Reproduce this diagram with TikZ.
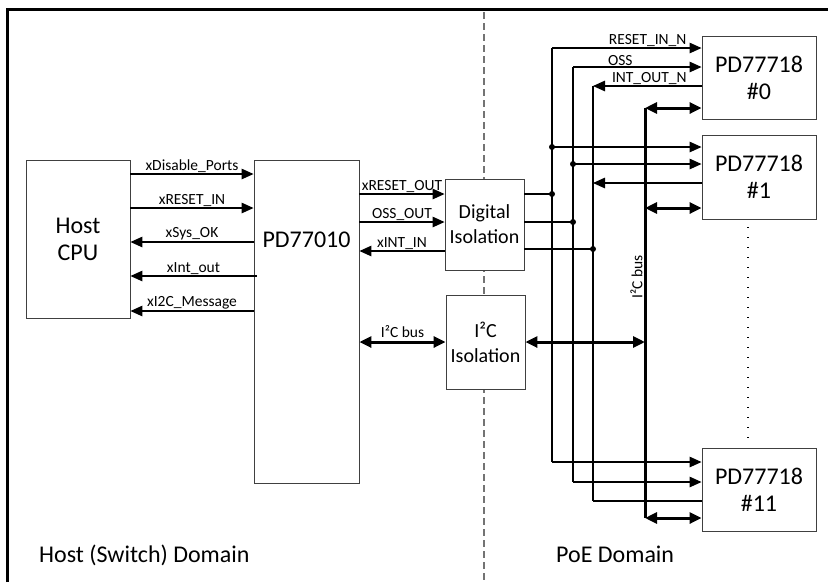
\documentclass[tikz,border=0pt]{standalone}
\usepackage{fontspec}
\setmainfont{Carlito}
\usetikzlibrary{arrows.meta,positioning,calc}

\begin{document}
\begin{tikzpicture}[
    x=1pt, y=-1pt,
    blk/.style={draw=black!75, line width=0.9pt, fill=white, inner sep=0pt, align=center, font=\fontsize{24}{27}\selectfont},
    big/.style={font=\fontsize{24}{27}\selectfont, inner sep=0pt},
    mid/.style={font=\fontsize{20}{25}\selectfont},
    lab/.style={font=\fontsize{15.5}{17}\selectfont, inner sep=1pt},
    sig/.style={line width=1.3pt},
    arr/.style={sig, -{Triangle[length=12pt,width=10.5pt]}},
    bus/.style={line width=3pt},
    barr/.style={bus, {Triangle[length=12pt,width=11pt]}-{Triangle[length=12pt,width=11pt]}},
    jn/.style={circle, fill, inner sep=0pt, minimum size=6pt}
]
\useasboundingbox (0,0) rectangle (828,582);
\draw[line width=3pt] (7.5,582) -- (7.5,9.5) -- (828,9.5);
\draw[black!55, line width=1.2pt, dash pattern=on 7pt off 4pt] (484,12) -- (484,582);

\node[blk, minimum width=104, minimum height=158] (host) at (78,239) {Host\\CPU};
\node[blk, minimum width=105, minimum height=323] (pd010) at (306.5,321.5) {};
\node[big] (pd010txt) at ([yshift=-80pt]pd010.north) {PD77010};
\node[blk, mid, minimum width=79, minimum height=91] (dig) at (484.5,224.5) {Digital\\Isolation};
\node[blk, mid, minimum width=79, minimum height=94] (i2ciso) at (485.5,342) {I²C\\Isolation};
\node[blk, minimum width=114, minimum height=83] (pd0) at (759,77.5) {PD77718\\\#0};
\node[blk, minimum width=114, minimum height=84] (pd1) at (759,177) {PD77718\\\#1};
\node[blk, minimum width=114, minimum height=83] (pd11) at (759,489.5) {PD77718\\\#11};

\draw[arr] (host.east |- 0,174) -- node[lab, above] {xDisable\_Ports} (pd010.west |- 0,174);
\draw[arr] (host.east |- 0,208) -- node[lab, above] {xRESET\_IN} (pd010.west |- 0,208);
\draw[arr] (pd010.west |- 0,242) -- node[lab, above] {xSys\_OK} (host.east |- 0,242);
\draw[arr] ([xshift=3pt]pd010.west |- 0,276) -- node[lab, above] {xInt\_out} (host.east |- 0,276);
\draw[arr] (pd010.west |- 0,311) -- node[lab, above] {xI2C\_Message} (host.east |- 0,311);

\draw[arr] (pd010.east |- 0,194) -- node[lab, above] {xRESET\_OUT} (dig.west |- 0,194);
\draw[arr] (pd010.east |- 0,222) -- node[lab, above] {OSS\_OUT} (dig.west |- 0,222);
\draw[arr] (dig.west |- 0,251) -- node[lab, above] {xINT\_IN} (pd010.east |- 0,251);
\draw[barr] (pd010.east |- i2ciso) -- node[lab, above=2pt] {I²C bus} (i2ciso.west);

\coordinate (rstT) at (552,48);
\coordinate (rstB) at (552,462);
\coordinate (ossT) at (573,67);
\coordinate (ossB) at (573,482);
\coordinate (intT) at (593,86);
\coordinate (intB) at (593,501);
\coordinate (busT) at (645,108);
\coordinate (busB) at (645,518);

\draw[sig] (rstT) -- (rstB);
\draw[sig] (ossT) -- (ossB);
\draw[sig] (intT) -- (intB);
\draw[bus] (busT) -- node[lab, rotate=90, above=3pt, pos=0.42] {I²C bus} (busB);

\draw[arr] (rstT) -- node[lab, anchor=south west, pos=0.37] {RESET\_IN\_N} (pd0.west |- rstT);
\draw[arr] (ossT) -- node[lab, anchor=south west, pos=0.26] {OSS} (pd0.west |- ossT);
\draw[arr] (pd0.west |- intT) -- node[lab, anchor=south west, pos=0.84] {INT\_OUT\_N} (intT);
\draw[barr] (busT) -- (pd0.west |- busT);

\draw[arr] (rstT |- 0,147) -- (pd1.west |- 0,147);
\draw[arr] (ossT |- 0,164) -- (pd1.west |- 0,164);
\draw[arr] (pd1.west |- 0,183) -- (intT |- 0,183);
\draw[barr] (busT |- 0,208) -- (pd1.west |- 0,208);

\draw[arr] (rstB) -- (pd11.west |- rstB);
\draw[arr] (ossB) -- (pd11.west |- ossB);
\draw[sig] (pd11.west |- intB) -- (intB);
\draw[barr] (busB) -- (pd11.west |- busB);

\draw[sig] (dig.east |- 0,194) -- (rstT |- 0,194);
\draw[sig] (dig.east |- 0,222) -- (ossT |- 0,222);
\draw[sig] (dig.east |- 0,249) -- (intT |- 0,249);
\draw[barr] (i2ciso.east) -- (busT |- i2ciso.east);

\node[jn] (j1) at (rstT |- 0,147) {};
\node[jn] (j2) at (rstT |- 0,194) {};
\node[jn] (j3) at (ossT |- 0,164) {};
\node[jn] (j4) at (ossT |- 0,222) {};
\node[jn] (j5) at (intT |- 0,249) {};

\draw[line width=1.2pt, dash pattern=on 1.2pt off 8.8pt] (748,227) -- (748,438);

\node[big, anchor=base west] (hostdom) at (39,562) {Host (Switch) Domain};
\node[big, anchor=base west] (poedom) at (556,562) {PoE Domain};
\end{tikzpicture}
\end{document}
